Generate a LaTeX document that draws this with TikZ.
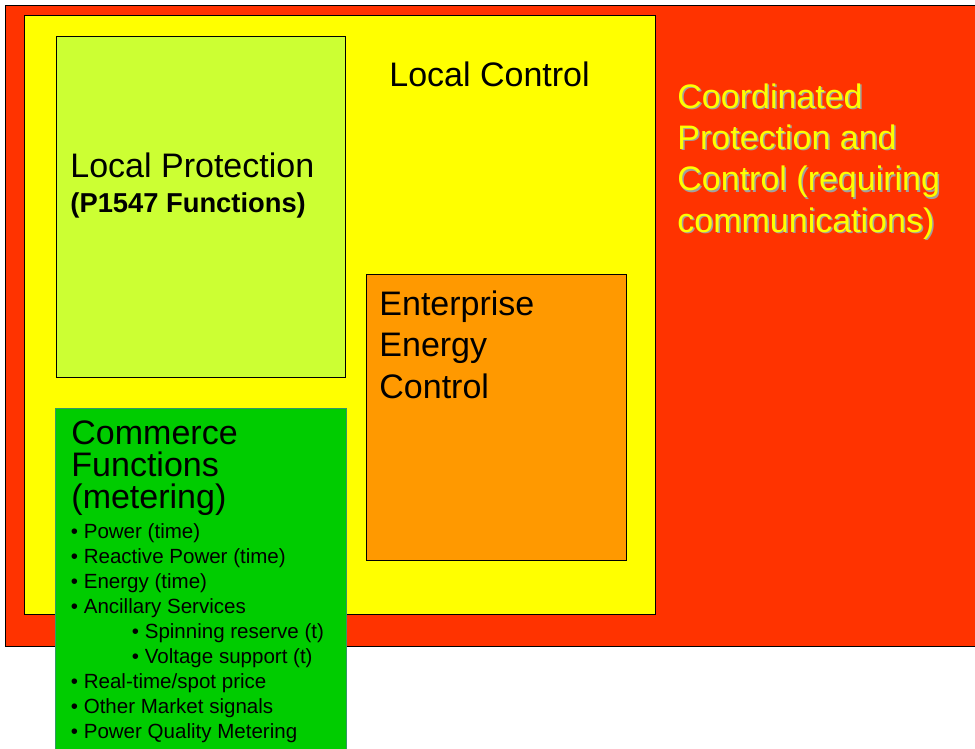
\documentclass[tikz,border=0pt]{standalone}
\usepackage{fontspec}
\setmainfont{Liberation Sans}
\usepackage{xcolor}
\usepackage{tikz}

\definecolor{coordred}{HTML}{FF3300}
\definecolor{localyellow}{HTML}{FFFF00}
\definecolor{protlime}{HTML}{CCFF33}
\definecolor{enterorange}{HTML}{FF9900}
\definecolor{commgreen}{HTML}{00CC00}
\definecolor{commborder}{HTML}{339966}
\definecolor{shadowgray}{HTML}{A0A0A0}

\tikzset{
	bigtext/.style={font=\fontsize{25.5}{31}\selectfont, inner sep=0pt, align=left},
	listtext/.style={font=\fontsize{15.4}{18.75}\selectfont, inner sep=0pt, align=left}
}

\begin{document}
\begin{tikzpicture}[x=0.75pt,y=-0.75pt,line width=0.65pt]
	\useasboundingbox (0,0) rectangle (975,749);
	\draw[fill=coordred] (5,5) rectangle (985,646);
	\draw[fill=localyellow] (24,15) rectangle (655,614);
	\draw[fill=protlime] (56,36) rectangle (345,377);
	\draw[fill=enterorange] (366,274) rectangle (626,560);
	\draw[fill=commgreen,draw=commborder] (55,408) rectangle (346,770);
	% red region label, with its shadow
	\path (678.5,84.5) node[bigtext,anchor=north west,text=shadowgray] (coordshadow) {Coordinated\\Protection and\\Control (requiring\\communications)};
	\path (677,83) node[bigtext,anchor=north west,text=localyellow] (coord) {Coordinated\\Protection and\\Control (requiring\\communications)};
	\path (389,87) node[bigtext,anchor=base west] (localctrl) {Local Control};
	\path (70,177) node[bigtext,anchor=base west] (localprot) {Local Protection};
	\path (70,212) node[inner sep=0pt,anchor=base west,font=\fontsize{20.5}{24}\selectfont\bfseries] (p1547) {(P1547 Functions)};
	\path (379,290.5) node[bigtext,anchor=north west] (enterprise) {Enterprise\\Energy\\Control};
	\path (71,420) node[bigtext,anchor=north west,font=\fontsize{25.5}{24}\selectfont] (commerce) {Commerce\\Functions\\(metering)};
	\path (70.5,523) node[listtext,anchor=north west] (metering) {%
		\textbullet\ Power (time)\\
		\textbullet\ Reactive Power (time)\\
		\textbullet\ Energy (time)\\
		\textbullet\ Ancillary Services\\
		\hspace*{45.75pt}\textbullet\ Spinning reserve (t)\\
		\hspace*{45.75pt}\textbullet\ Voltage support (t)\\
		\textbullet\ Real-time/spot price\\
		\textbullet\ Other Market signals\\
		\textbullet\ Power Quality Metering};
\end{tikzpicture}
\end{document}
